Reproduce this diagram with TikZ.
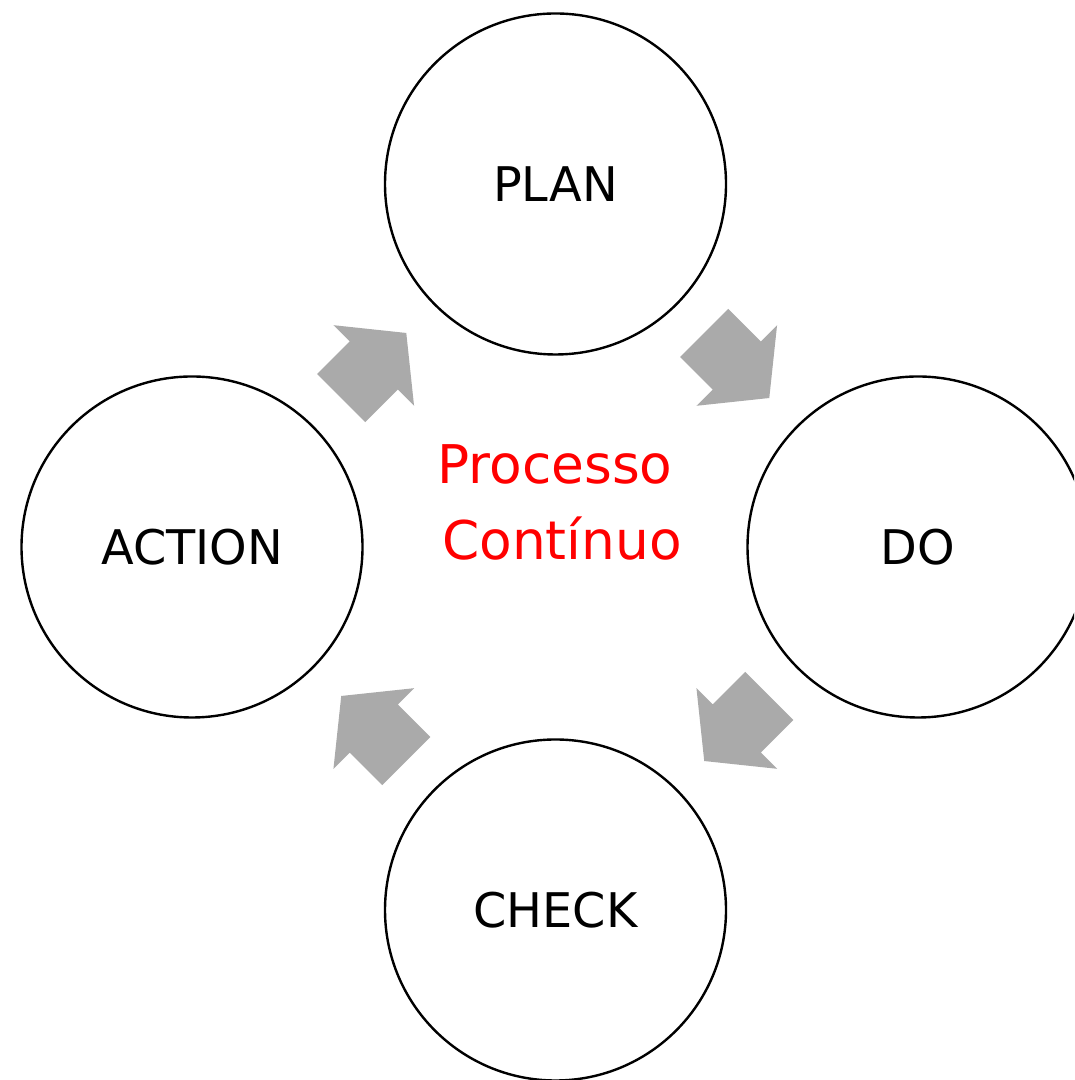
\documentclass[tikz,border=0pt]{standalone}
\usepackage{fontspec}
\setmainfont{DejaVu Sans}
\usetikzlibrary{calc}
\definecolor{arrowgray}{HTML}{AAAAAA}
\begin{document}
\begin{tikzpicture}[x=0.75pt,y=0.75pt,
  phase/.style={circle,draw=black,line width=1.8pt,minimum size=255.75pt,inner sep=0pt,
    font=\fontsize{35.8}{42}\selectfont},
  mid/.style={font=\fontsize{40}{47}\selectfont,text=red,anchor=base,inner sep=0pt},
  blockarrow/.style={fill=arrowgray,draw=none}]
\useasboundingbox (0,0) rectangle (1074,1080);
\clip (0,0) rectangle (1074,1080);
\node[phase] (plan) at (555.5,896) {PLAN};
\node[phase] (do) at (918,533) {DO};
\node[phase] (check) at (555.5,170) {CHECK};
\node[phase] (action) at (192,533) {ACTION};
\node[mid] (t1) at (555,596) {Processo};
\node[mid] (t2) at (562,520) {Contínuo};
\foreach \a/\b/\r in {plan/do/-45, do/check/-135, check/action/135, action/plan/45}{
  \coordinate (m) at ($(\a)!0.5!(\b)$);
  \fill[blockarrow, shift={(m)}, rotate=\r] (-46,34) -- (0,34) -- (0,57) -- (46,0) -- (0,-57) -- (0,-34) -- (-46,-34) -- cycle;
}
\end{tikzpicture}
\end{document}
